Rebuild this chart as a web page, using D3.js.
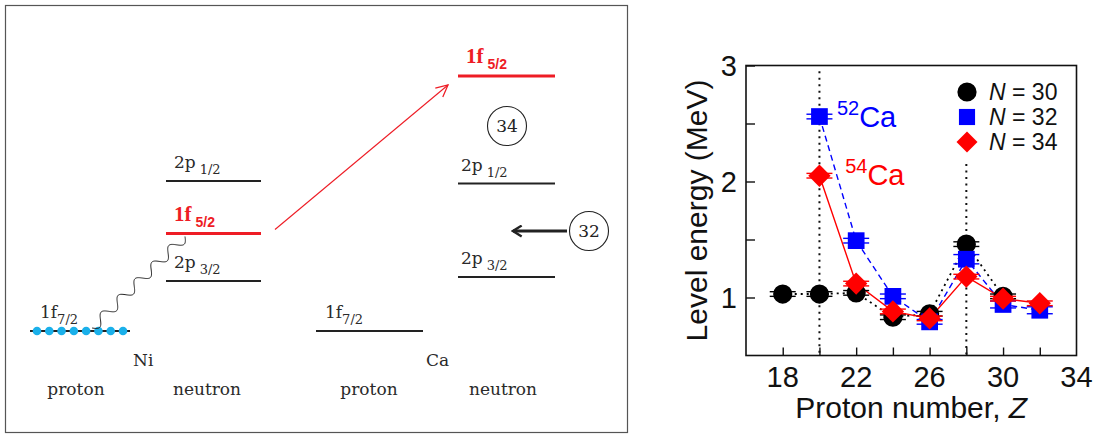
<!DOCTYPE html>
<html><head><meta charset="utf-8">
<script src="https://cdn.jsdelivr.net/npm/d3@7"></script>
<style>body{margin:0;background:#fff}svg{display:block}</style>
</head><body><svg id="c" width="1095" height="437"></svg>
<script>
// ---------- chart data ----------
const zN30 = [18, 20, 22, 24, 26, 28, 30];
const eN30 = [1.03, 1.03, 1.04, 0.83, 0.86, 1.46, 1.01];
const errN30 = [0.02, 0.02, 0.02, 0.02, 0.02, 0.02, 0.02];
const zN32 = [20, 22, 24, 26, 28, 30, 32];
const eN32 = [2.56, 1.49, 1.01, 0.79, 1.33, 0.94, 0.89];
const errN32 = [0.02, 0.02, 0.02, 0.02, 0.04, 0.03, 0.03];
const zN34 = [20, 22, 24, 26, 28, 30, 32];
const eN34 = [2.05, 1.12, 0.88, 0.82, 1.18, 0.99, 0.95];
const errN34 = [0.02, 0.02, 0.02, 0.02, 0.02, 0.02, 0.02];
const seriesNames = ["30", "32", "34"];
const xTickLabels = [18, 22, 26, 30, 34];
const xMinorTicks = [18, 20, 22, 24, 26, 28, 30, 32];
const yTickLabels = [1, 2, 3];
const yMinorTicks = [1, 1.5, 2, 2.5, 3];
const magicZ = [20, 28];
const magicTop = [2.95, 2.15];
const isoLabels = [{mass: "52", el: "Ca", z: 20.95, e: 2.55}, {mass: "54", el: "Ca", z: 21.4, e: 2.05}];

// ---------- schematic data ----------
const schemeCols = ["Ni proton", "Ni neutron", "Ca proton", "Ca neutron"];
const niLevels = [
  {col: "Ni proton", l: "1f", j: "7/2", E: 0.0},
  {col: "Ni neutron", l: "2p", j: "3/2", E: 1.0},
  {col: "Ni neutron", l: "1f", j: "5/2", E: 1.95, hi: true},
  {col: "Ni neutron", l: "2p", j: "1/2", E: 3.0}
];
const caLevels = [
  {col: "Ca proton", l: "1f", j: "7/2", E: 0.0},
  {col: "Ca neutron", l: "2p", j: "3/2", E: 1.08},
  {col: "Ca neutron", l: "2p", j: "1/2", E: 2.95},
  {col: "Ca neutron", l: "1f", j: "5/2", E: 5.1, hi: true}
];
const protonOccupancy = 8;
const gaps = [{n: "34", E: 4.1}, {n: "32", E: 2.0}];

const svg = d3.select("#c");
const RED = "#ee1c25";

// ================= schematic =================
const S = svg.append("g");
S.append("rect").attr("x", 5.5).attr("y", 5.5).attr("width", 622).attr("height", 427)
  .attr("fill", "none").attr("stroke", "#555").attr("stroke-width", 1.2);
const ey = d3.scaleLinear().domain([0, 5.1]).range([331, 76]);
const colX = d3.scaleOrdinal().domain(schemeCols).range([30, 166, 316, 458]);
const colW = d3.scaleOrdinal().domain(schemeCols).range([100, 95, 107, 97]);
const labOff = d3.scaleOrdinal().domain(schemeCols).range([10, 8, 9, 3]);
const serif = "'DejaVu Serif', 'Liberation Serif', serif";
const allLevels = niLevels.concat(caLevels);

S.selectAll("line.lev").data(allLevels).join("line")
  .attr("x1", d => colX(d.col)).attr("x2", d => colX(d.col) + colW(d.col))
  .attr("y1", d => ey(d.E)).attr("y2", d => ey(d.E))
  .attr("stroke", d => d.hi ? RED : "#222").attr("stroke-width", d => d.hi ? 3.2 : 2.2);

const lab = S.selectAll("text.lab").data(allLevels).join("text")
  .attr("x", d => colX(d.col) + (d.hi ? 8 : labOff(d.col)))
  .attr("y", d => ey(d.E) - 13)
  .attr("font-family", d => d.hi ? "'Liberation Serif', serif" : serif)
  .attr("font-size", d => d.hi ? 21 : 17)
  .attr("fill", d => d.hi ? RED : "#2a2a2a")
  .attr("font-weight", d => d.hi ? "bold" : "normal");
lab.append("tspan").text(d => d.l);
lab.append("tspan").attr("dx", d => d.col.endsWith("proton") ? 0 : 4).attr("dy", 6)
  .attr("font-size", d => d.hi ? 14 : 13).text(d => d.j)
  .attr("font-family", d => d.hi ? "'Liberation Sans', sans-serif" : serif);

// proton dots in Ni 1f7/2
const dotX = d3.scaleLinear().domain([0, protonOccupancy - 1]).range([37, 123]);
S.selectAll("circle.pd").data(d3.range(protonOccupancy)).join("circle")
  .attr("cx", d => dotX(d)).attr("cy", ey(0)).attr("r", 4.3).attr("fill", "#1ab0ea");

// wavy line
(function () {
  const x0 = 92, y0 = ey(0) - 3, x1 = 185, y1 = ey(1.95) + 3;
  const pts = [];
  const n = 200, cycles = 5.5, amp = 5;
  const dx = x1 - x0, dy = y1 - y0, L = Math.hypot(dx, dy);
  const ux = dx / L, uy = dy / L, px = -uy, py = ux;
  for (let i = 0; i <= n; i++) {
    const t = i / n;
    const s = Math.sin(t * cycles * 2 * Math.PI) * amp;
    pts.push([x0 + dx * t + px * s, y0 + dy * t + py * s]);
  }
  S.append("path").attr("d", d3.line().curve(d3.curveBasis)(pts))
    .attr("fill", "none").attr("stroke", "#222").attr("stroke-width", 1);
})();

// red arrow
const defs = svg.append("defs");
defs.append("marker").attr("id", "ra").attr("viewBox", "0 0 12 12").attr("refX", 11).attr("refY", 6)
  .attr("markerWidth", 14).attr("markerHeight", 14).attr("markerUnits", "userSpaceOnUse").attr("orient", "auto")
  .append("path").attr("d", "M1,1 L11,6 L1,11").attr("fill", "none").attr("stroke", RED).attr("stroke-width", 1.1);
S.append("line").attr("x1", 275).attr("y1", ey(1.95) - 4).attr("x2", 448).attr("y2", ey(5.1) + 9)
  .attr("stroke", RED).attr("stroke-width", 1.1).attr("marker-end", "url(#ra)");

// gap circles
const gapX = d3.scaleOrdinal().domain(gaps.map(g => g.n)).range([507, 589]);
const gg = S.selectAll("g.gap").data(gaps).join("g")
  .attr("transform", g => `translate(${gapX(g.n)},${ey(g.E)})`);
gg.append("circle").attr("r", 19.5).attr("fill", "none").attr("stroke", "#222").attr("stroke-width", 1.1);
gg.append("text").attr("text-anchor", "middle").attr("dy", 6).attr("font-family", serif)
  .attr("font-size", 17).attr("fill", "#222").text(g => g.n);
// black arrow pointing to 32 gap
defs.append("marker").attr("id", "ba").attr("viewBox", "0 0 12 12").attr("refX", 10).attr("refY", 6)
  .attr("markerWidth", 13).attr("markerHeight", 13).attr("markerUnits", "userSpaceOnUse").attr("orient", "auto")
  .append("path").attr("d", "M2,1 L10,6 L2,11").attr("fill", "none").attr("stroke", "#222").attr("stroke-width", 2.2);
S.append("line").attr("x1", 567).attr("y1", ey(2.0)).attr("x2", 513).attr("y2", ey(2.0))
  .attr("stroke", "#222").attr("stroke-width", 2.8).attr("marker-end", "url(#ba)");

// nucleus and column labels
S.append("text").attr("x", 133).attr("y", 366).attr("font-family", serif).attr("font-size", 17).attr("fill", "#2a2a2a").text("Ni");
S.append("text").attr("x", 426).attr("y", 366).attr("font-family", serif).attr("font-size", 17).attr("fill", "#2a2a2a").text("Ca");
const colLabX = d3.scaleOrdinal().domain(schemeCols).range([76, 207, 369, 503]);
S.selectAll("text.cl").data(schemeCols).join("text")
  .attr("x", c => colLabX(c)).attr("y", 395).attr("text-anchor", "middle")
  .attr("font-family", serif).attr("font-size", 17).attr("fill", "#2a2a2a")
  .text(c => c.split(" ")[1]);

// ================= chart =================
const sans = "'Liberation Sans', Arial, Helvetica, sans-serif";
const x = d3.scaleLinear().domain([16, 34]).range([746, 1076.5]);
const y = d3.scaleLinear().domain([0.5, 3]).range([355.5, 65.5]);
const C = svg.append("g");

// vertical dotted magic lines
C.selectAll("line.mg").data(magicZ).join("line")
  .attr("x1", z => x(z)).attr("x2", z => x(z))
  .attr("y1", (z, i) => y(magicTop[i])).attr("y2", y(0.5))
  .attr("stroke", "#111").attr("stroke-width", 2).attr("stroke-dasharray", "2,4.5");

// frame
C.append("rect").attr("x", x(16)).attr("y", y(3)).attr("width", x(34) - x(16)).attr("height", y(0.5) - y(3))
  .attr("fill", "none").attr("stroke", "#111").attr("stroke-width", 1.6);

// axes (inward ticks)
const xAx = C.append("g").attr("transform", `translate(0,${y(0.5)})`)
  .call(d3.axisBottom(x).tickValues(xMinorTicks).tickSize(-8).tickFormat(""));
const yAx = C.append("g").attr("transform", `translate(${x(16)},0)`)
  .call(d3.axisLeft(y).tickValues(yMinorTicks).tickSize(-9).tickFormat(""));
[xAx, yAx].forEach(a => { a.select(".domain").remove(); a.selectAll("line").attr("stroke", "#111").attr("stroke-width", 1.4); });
C.selectAll("text.xt").data(xTickLabels).join("text")
  .attr("x", d => x(d)).attr("y", 387).attr("text-anchor", "middle")
  .attr("font-family", sans).attr("font-size", 29).attr("fill", "#111").text(d => d);
C.selectAll("text.yt").data(yTickLabels).join("text")
  .attr("x", 737).attr("y", d => y(d) + 10).attr("text-anchor", "end")
  .attr("font-family", sans).attr("font-size", 29).attr("fill", "#111").text(d => d);
const xt = C.append("text").attr("x", x(25)).attr("y", 418).attr("text-anchor", "middle")
  .attr("font-family", sans).attr("font-size", 30).attr("fill", "#111");
xt.append("tspan").text("Proton number, ");
xt.append("tspan").attr("font-style", "italic").text("Z");
C.append("text").attr("transform", `translate(707,${y(1.75)}) rotate(-90)`).attr("text-anchor", "middle")
  .attr("font-family", sans).attr("font-size", 30).attr("fill", "#111").text("Level energy (MeV)");

// series
const series = [
  {name: seriesNames[0], z: zN30, e: eN30, err: errN30, color: "#000", dash: "2,4", shape: d3.symbolCircle, size: 290, rot: 0},
  {name: seriesNames[1], z: zN32, e: eN32, err: errN32, color: "#0000ff", dash: "6,4", shape: d3.symbolSquare, size: 280, rot: 0},
  {name: seriesNames[2], z: zN34, e: eN34, err: errN34, color: "#ff0000", dash: null, shape: d3.symbolSquare, size: 250, rot: 45}
];
const line = d3.line().x(d => x(d[0])).y(d => y(d[1]));
series.forEach(s => {
  const pts = s.z.map((z, i) => [z, s.e[i], s.err[i]]);
  C.append("path").attr("d", line(pts)).attr("fill", "none").attr("stroke", s.color)
    .attr("stroke-width", s.dash === "2,4" ? 1.8 : 1.4).attr("stroke-dasharray", s.dash);
});
series.forEach(s => {
  const pts = s.z.map((z, i) => [z, s.e[i], s.err[i]]);
  const g = C.append("g");
  pts.forEach(p => {
    g.append("line").attr("x1", x(p[0])).attr("x2", x(p[0])).attr("y1", y(p[1] + p[2])).attr("y2", y(p[1] - p[2]))
      .attr("stroke", s.color).attr("stroke-width", 1.4);
    [p[1] + p[2], p[1] - p[2]].forEach(v => g.append("line")
      .attr("x1", x(p[0]) - 13).attr("x2", x(p[0]) + 13).attr("y1", y(v)).attr("y2", y(v))
      .attr("stroke", s.color).attr("stroke-width", 1.4));
  });
  g.selectAll("path.m").data(pts).join("path")
    .attr("transform", p => `translate(${x(p[0])},${y(p[1])}) rotate(${s.rot})`)
    .attr("d", d3.symbol().type(s.shape).size(s.size)).attr("fill", s.color);
});

// isotope labels
isoLabels.forEach((l, i) => {
  const t = C.append("text").attr("x", x(l.z)).attr("y", y(l.e) + 9)
    .attr("font-family", sans).attr("font-size", 29).attr("fill", i === 0 ? "#0000ff" : "#ff0000");
  t.append("tspan").attr("font-size", 20).attr("dy", -12).text(l.mass);
  t.append("tspan").attr("dy", 12).text(l.el);
});

// legend
const lg = C.selectAll("g.lg").data(series).join("g")
  .attr("transform", (s, i) => `translate(967,${92 + i * 25})`);
lg.append("path").attr("transform", s => `rotate(${s.rot})`)
  .attr("d", (s, i) => d3.symbol().type(s.shape).size([290, 260, 220][i])()).attr("fill", s => s.color);
const lt = lg.append("text").attr("x", 22).attr("y", 8).attr("font-family", sans).attr("font-size", 23).attr("fill", "#111");
lt.append("tspan").attr("font-style", "italic").text("N");
lt.append("tspan").text(s => " = " + s.name);
</script></body></html>
